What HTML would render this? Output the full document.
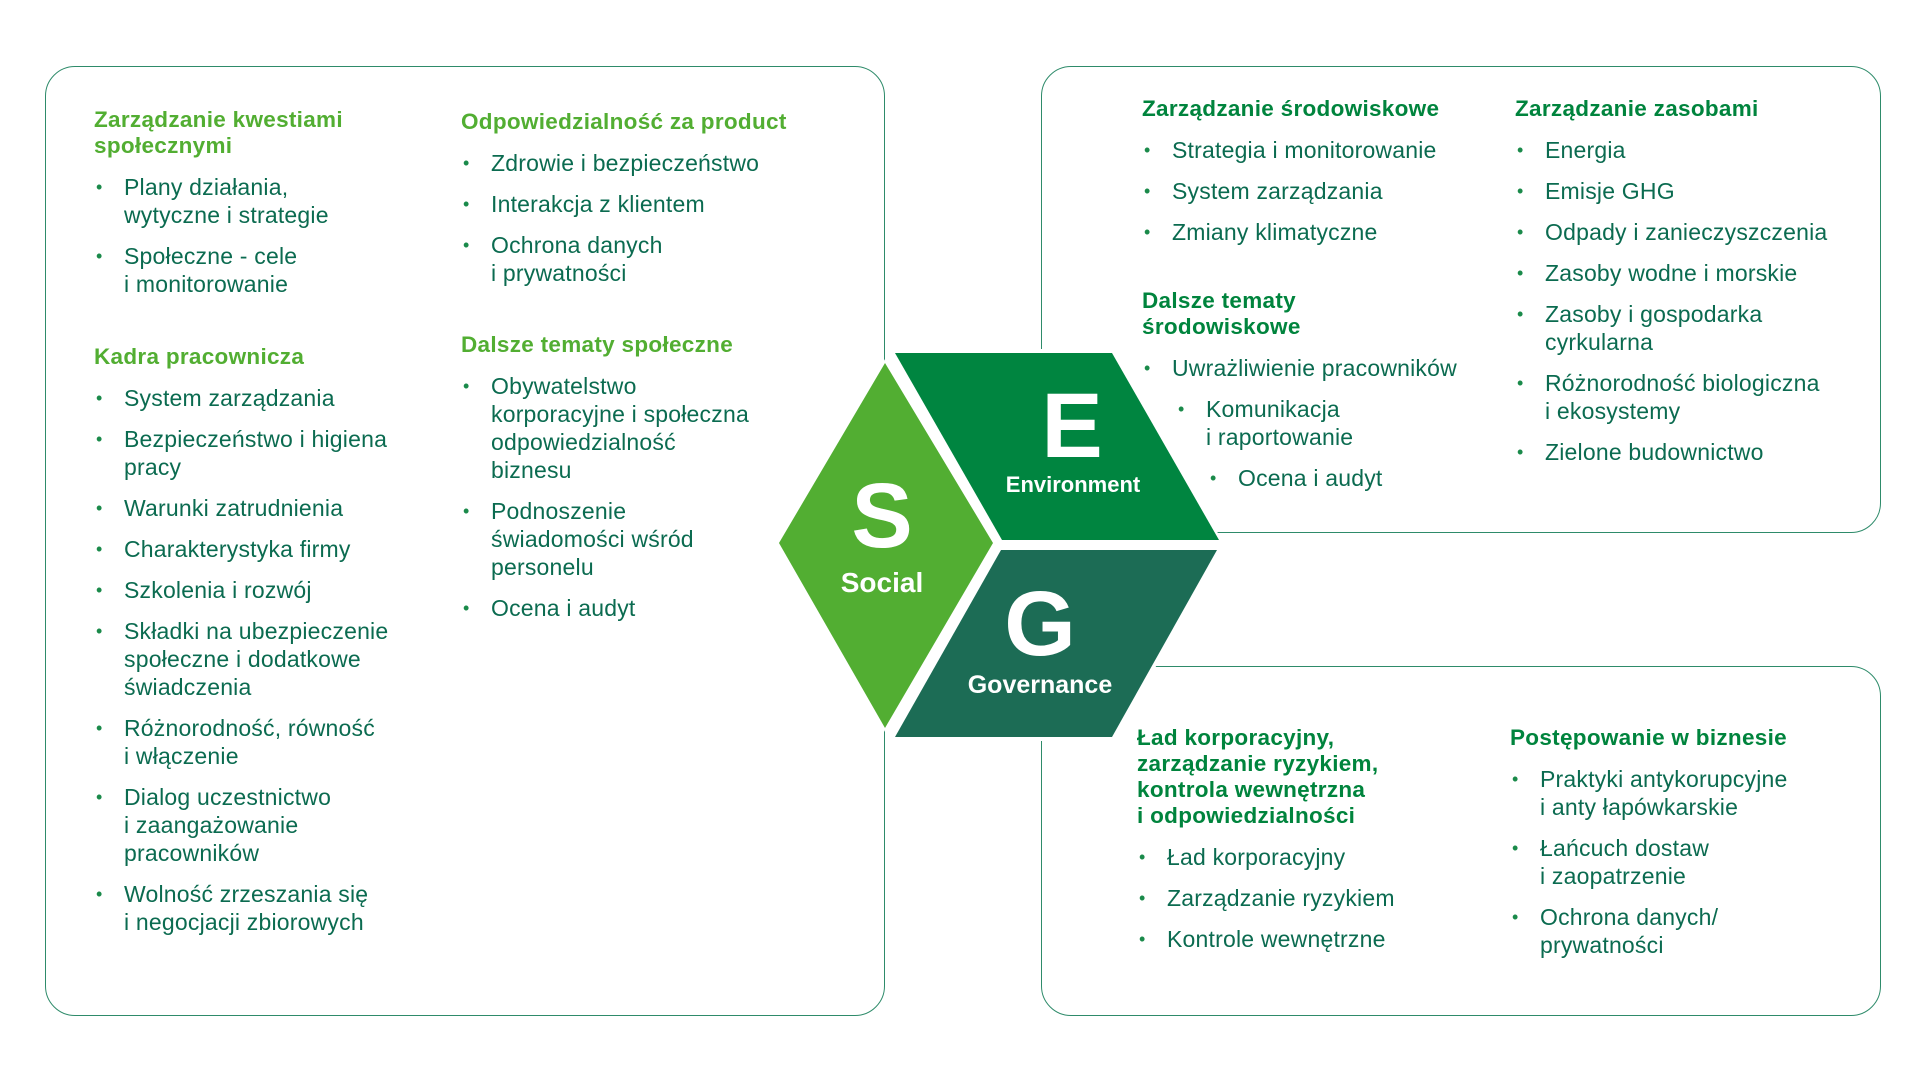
<!DOCTYPE html>
<html><head><meta charset="utf-8"><style>
body{margin:0;width:1921px;height:1081px;background:#fff;position:relative;overflow:hidden;font-family:"Liberation Sans",sans-serif}
.box{position:absolute;border:1.5px solid #2e8b6a;border-radius:30px;box-sizing:border-box}
.sec{position:absolute;color:#0b6b50;font-size:23px;letter-spacing:0.2px}
.sec h{display:block;font-weight:bold;line-height:26px;font-size:22.5px;margin-bottom:14px;letter-spacing:0.3px}
.l h{color:#52ae32}.r h{color:#00843d}
.sec ul{list-style:none;margin:0;padding:0}
.sec li{position:relative;padding-left:30px;line-height:28px;margin-bottom:13px}
.sec li:before{content:"•";position:absolute;left:2px;top:0;color:#1a8a4a;font-size:18px}
.sec li.s1{margin-left:34px}.sec li.s2{margin-left:66px}
</style></head><body>
<div class="box" style="left:45px;top:66px;width:840px;height:950px"></div>
<div class="box" style="left:1041px;top:66px;width:840px;height:467px"></div>
<div class="box" style="left:1041px;top:666px;width:840px;height:350px"></div>

<svg style="position:absolute;left:0;top:0" width="1921" height="1081">
<polygon points="885,359 996,543 885,732 775,543" fill="#fff"/>
<polygon points="885,363 993,543 885,728 779,543" fill="#52ae32"/>
<polygon points="893,349 1115,349 1224,544 1000,544" fill="#fff"/>
<polygon points="895,353 1112,353 1219,540 1002,540" fill="#008540"/>
<polygon points="999,546 1222,546 1115,741 893,741" fill="#fff"/>
<polygon points="1001,550 1217,550 1112,737 895,737" fill="#1c6c55"/>
<g fill="#fff" font-family="Liberation Sans, sans-serif" font-weight="bold" text-anchor="middle">
<text x="1072" y="457" font-size="92">E</text>
<text x="1073" y="492" font-size="22">Environment</text>
<text x="882" y="547" font-size="92">S</text>
<text x="882" y="592" font-size="28">Social</text>
<text x="1040" y="655" font-size="92">G</text>
<text x="1040" y="693" font-size="25">Governance</text>
</g></svg>

<div class="sec l" style="left:94px;top:107px;width:340px"><h>Zarządzanie kwestiami<br>społecznymi</h><ul><li>Plany działania,<br>wytyczne i strategie</li><li>Społeczne - cele<br>i monitorowanie</li></ul></div>
<div class="sec l" style="left:94px;top:344px;width:340px"><h>Kadra pracownicza</h><ul><li>System zarządzania</li><li>Bezpieczeństwo i higiena<br>pracy</li><li>Warunki zatrudnienia</li><li>Charakterystyka firmy</li><li>Szkolenia i rozwój</li><li>Składki na ubezpieczenie<br>społeczne i dodatkowe<br>świadczenia</li><li>Różnorodność, równość<br>i włączenie</li><li>Dialog uczestnictwo<br>i zaangażowanie<br>pracowników</li><li>Wolność zrzeszania się<br>i negocjacji zbiorowych</li></ul></div>
<div class="sec l" style="left:461px;top:109px;width:350px"><h>Odpowiedzialność za product</h><ul><li>Zdrowie i bezpieczeństwo</li><li>Interakcja z klientem</li><li>Ochrona danych<br>i prywatności</li></ul></div>
<div class="sec l" style="left:461px;top:332px;width:350px"><h>Dalsze tematy społeczne</h><ul><li>Obywatelstwo<br>korporacyjne i społeczna<br>odpowiedzialność<br>biznesu</li><li>Podnoszenie<br>świadomości wśród<br>personelu</li><li>Ocena i audyt</li></ul></div>

<div class="sec r" style="left:1142px;top:96px;width:370px"><h>Zarządzanie środowiskowe</h><ul><li>Strategia i monitorowanie</li><li>System zarządzania</li><li>Zmiany klimatyczne</li></ul></div>
<div class="sec r" style="left:1142px;top:288px;width:370px"><h>Dalsze tematy<br>środowiskowe</h><ul><li>Uwrażliwienie pracowników</li><li class="s1">Komunikacja<br>i raportowanie</li><li class="s2">Ocena i audyt</li></ul></div>
<div class="sec r" style="left:1515px;top:96px;width:370px"><h>Zarządzanie zasobami</h><ul><li>Energia</li><li>Emisje GHG</li><li>Odpady i zanieczyszczenia</li><li>Zasoby wodne i morskie</li><li>Zasoby i gospodarka<br>cyrkularna</li><li>Różnorodność biologiczna<br>i ekosystemy</li><li>Zielone budownictwo</li></ul></div>

<div class="sec r" style="left:1137px;top:725px;width:370px"><h>Ład korporacyjny,<br>zarządzanie ryzykiem,<br>kontrola wewnętrzna<br>i odpowiedzialności</h><ul><li>Ład korporacyjny</li><li>Zarządzanie ryzykiem</li><li>Kontrole wewnętrzne</li></ul></div>
<div class="sec r" style="left:1510px;top:725px;width:370px"><h>Postępowanie w biznesie</h><ul><li>Praktyki antykorupcyjne<br>i anty łapówkarskie</li><li>Łańcuch dostaw<br>i zaopatrzenie</li><li>Ochrona danych/<br>prywatności</li></ul></div>
</body></html>
